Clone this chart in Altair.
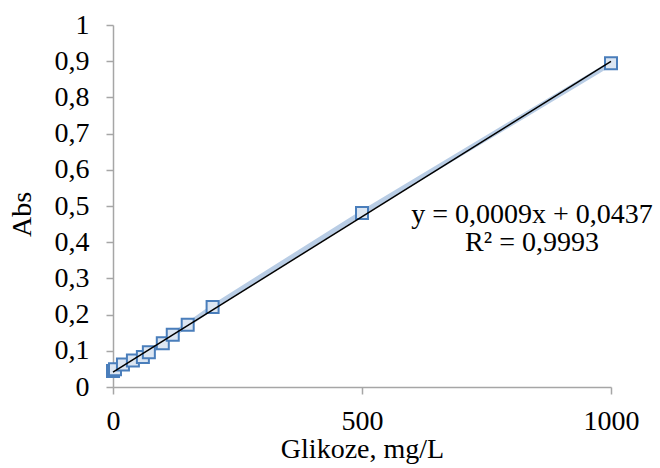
import altair as alt
import pandas as pd

glucose = [0, 4, 20, 40, 60, 72, 100, 120, 150, 200, 500, 1000]
absorb = [0.044, 0.049, 0.062, 0.073, 0.083, 0.096, 0.121, 0.144, 0.172, 0.221, 0.481, 0.894]
eq_lines = ["y = 0,0009x + 0,0437", "R² = 0,9993"]
x_ticks = [0, 500, 1000]
y_ticks = [0, 0.1, 0.2, 0.3, 0.4, 0.5, 0.6, 0.7, 0.8, 0.9, 1]

df = pd.DataFrame({"x": glucose, "y": absorb})

FONT = "Liberation Serif"
FS = 28

xs = alt.Scale(domain=[0, 1000], nice=False, zero=False)
ys = alt.Scale(domain=[0, 1], nice=False)

xaxis = alt.Axis(values=x_ticks, title="Glikoze, mg/L", format="d",
                 labelPadding=13, titlePadding=0)
yaxis = alt.Axis(values=y_ticks, title="Abs",
                 labelExpr="replace(format(datum.value, '.1~f'), '.', ',')",
                 labelPadding=17, titlePadding=18, titleY=189)

X = alt.X("x:Q", scale=xs, axis=xaxis)
Y = alt.Y("y:Q", scale=ys, axis=yaxis)

base = alt.Chart(df)

series_line = base.mark_line(color="#b9cde5", strokeWidth=5).encode(x=X, y=Y)

points = base.mark_point(shape="square", filled=True, size=144, fill="#dce6f2",
                         stroke="#4a7ebb", strokeWidth=2, opacity=1).encode(x=X, y=Y)

trend = base.transform_regression("x", "y", method="linear", extent=[0, 1000]).mark_line(
    color="black", strokeWidth=1.5).encode(x=X, y=Y)

eq_df = pd.DataFrame({"t": eq_lines, "i": [0, 1]})
eq1 = alt.Chart(eq_df).transform_filter("datum.i == 0").mark_text(
    font=FONT, fontSize=FS, align="center", baseline="middle", color="black").encode(
    text="t:N", x=alt.value(419), y=alt.value(190))
eq2 = alt.Chart(eq_df).transform_filter("datum.i == 1").mark_text(
    font=FONT, fontSize=FS, align="center", baseline="middle", color="black").encode(
    text="t:N", x=alt.value(419), y=alt.value(218))

chart = alt.layer(series_line, points, trend, eq1, eq2).properties(
    width=498, height=362,
    autosize=alt.AutoSizeParams(type="none"),
    padding={"left": 113, "top": 25, "right": 49, "bottom": 81},
    background="white",
).configure_view(stroke=None).configure_axis(
    grid=False, labelOverlap=False, labelFlush=False, tickSize=7,
    labelFont=FONT, labelFontSize=FS, titleFont=FONT, titleFontSize=FS,
    titleFontWeight="normal", labelColor="black", titleColor="black",
    domainColor="#a6a6a6", tickColor="#a6a6a6", domainWidth=1.5, tickWidth=1.5,
)

chart.save("out.html", embed_options={"renderer": "svg", "actions": False})
